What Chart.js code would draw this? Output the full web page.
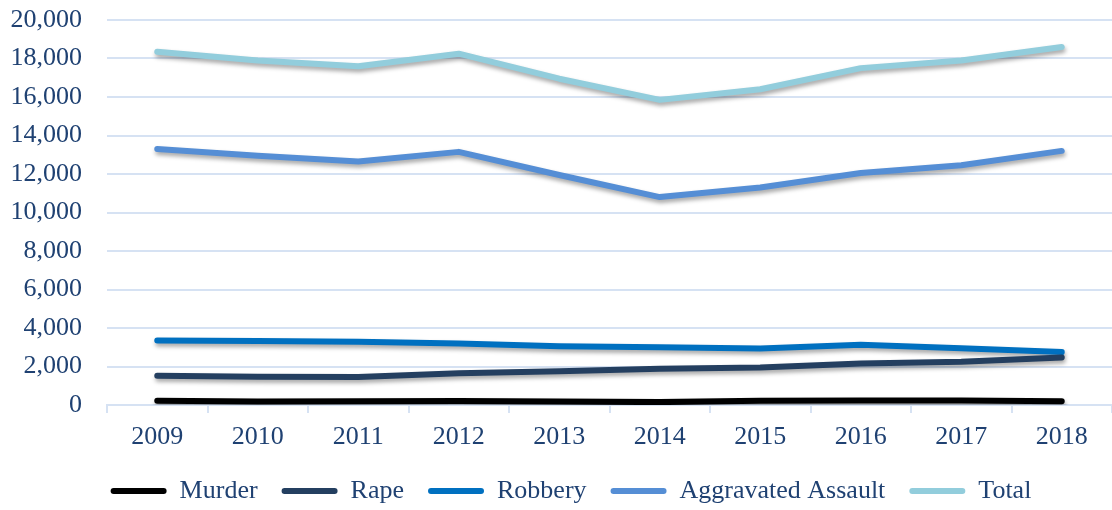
<!DOCTYPE html>
<html>
<head>
<meta charset="utf-8">
<script src="https://cdn.jsdelivr.net/npm/chart.js@4"></script>
<style>
  html, body { margin: 0; padding: 0; background: #fff; }
  #wrap { width: 1112px; height: 510px; }
</style>
</head>
<body>
<div id="wrap"><canvas id="chart"></canvas></div>
<script>
const years = ['2009', '2010', '2011', '2012', '2013', '2014', '2015', '2016', '2017', '2018'];
const murder = [220, 180, 200, 210, 180, 150, 220, 230, 230, 200];
const rape = [1520, 1470, 1450, 1650, 1750, 1880, 1950, 2150, 2250, 2470];
const robbery = [3350, 3320, 3280, 3200, 3050, 3000, 2930, 3130, 2950, 2750];
const aggravatedAssault = [13300, 12950, 12650, 13150, 11950, 10800, 11300, 12050, 12450, 13200];
const total = [18350, 17900, 17600, 18250, 16950, 15850, 16400, 17500, 17900, 18600];
const yTicks = [0, 2000, 4000, 6000, 8000, 10000, 12000, 14000, 16000, 18000, 20000];

const textColor = '#1f4172';
const gridColor = '#d6e2f3';
const fontFamily = 'Liberation Serif';

// soft drop shadow under each line, like the office chart
const lineShadow = {
  id: 'lineShadow',
  beforeDatasetDraw(chart) {
    const ctx = chart.ctx;
    ctx.save();
    ctx.shadowColor = 'rgba(0, 0, 0, 0.35)';
    ctx.shadowBlur = 4;
    ctx.shadowOffsetX = 1;
    ctx.shadowOffsetY = 3;
  },
  afterDatasetDraw(chart) {
    chart.ctx.restore();
  }
};

// nudge the legend a bit to the right (original has a tighter swatch/text gap)
const legendNudge = {
  id: 'legendNudge',
  afterLayout(chart) {
    if (chart.legend) {
      chart.legend.left += 15;
      chart.legend.right += 15;
    }
  }
};

function series(label, data, color) {
  return {
    label: label,
    data: data,
    borderColor: color,
    backgroundColor: color,
    borderWidth: 6,
    pointRadius: 0,
    borderCapStyle: 'round',
    borderJoinStyle: 'round',
    tension: 0
  };
}

new Chart(document.getElementById('chart'), {
  type: 'line',
  data: {
    labels: years,
    datasets: [
      series('Murder', murder, '#000000'),
      series('Rape', rape, '#243f60'),
      series('Robbery', robbery, '#0070c0'),
      series('Aggravated Assault', aggravatedAssault, '#558ed5'),
      series('Total', total, '#92cddc')
    ]
  },
  plugins: [lineShadow, legendNudge],
  options: {
    responsive: true,
    maintainAspectRatio: false,
    animation: false,
    layout: { padding: { top: 0, right: 0, bottom: -4, left: 0 } },
    plugins: {
      tooltip: { enabled: false },
      legend: {
        position: 'bottom',
        labels: {
          color: textColor,
          font: { family: fontFamily, size: 26 },
          boxWidth: 56,
          boxHeight: 6,
          padding: 24,
          generateLabels(chart) {
            return chart.data.datasets.map((ds, i) => ({
              text: ds.label,
              fillStyle: ds.borderColor,
              strokeStyle: ds.borderColor,
              lineWidth: 0,
              borderRadius: 3,
              fontColor: textColor,
              datasetIndex: i
            }));
          }
        }
      }
    },
    scales: {
      x: {
        offset: true,
        afterFit(scale) { scale.height = 49; },
        grid: {
          offset: true,
          drawOnChartArea: false,
          drawTicks: true,
          tickLength: 8,
          color: gridColor,
          lineWidth: 2
        },
        border: { display: true, color: gridColor, width: 2 },
        ticks: {
          color: textColor,
          font: { family: fontFamily, size: 26 },
          padding: 9
        }
      },
      y: {
        min: 0,
        max: 20000,
        afterBuildTicks(scale) {
          scale.ticks = yTicks.map(v => ({ value: v }));
        },
        afterFit(scale) {
          scale.width = 107;
          scale.paddingTop = 20;
          scale.paddingBottom = 0;
        },
        grid: { color: gridColor, lineWidth: 2, drawTicks: false },
        border: { display: false },
        ticks: {
          color: textColor,
          font: { family: fontFamily, size: 26 },
          padding: 25,
          callback: v => v.toLocaleString('en-US')
        }
      }
    }
  }
});
</script>
</body>
</html>
